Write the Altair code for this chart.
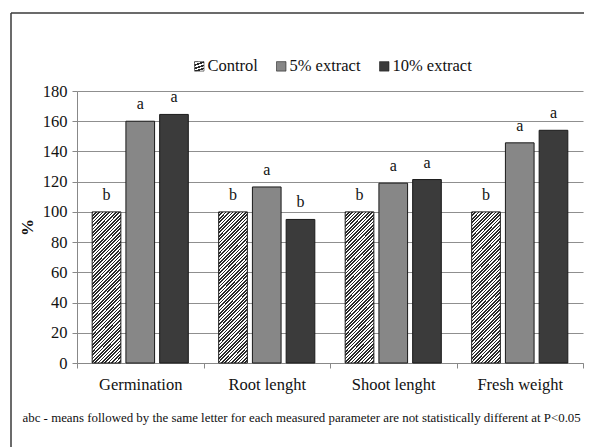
import altair as alt
import pandas as pd

categories = ["Germination", "Root lenght", "Shoot lenght", "Fresh weight"]
series = ["Control", "5% extract", "10% extract"]
control_vals = [100, 100, 100, 100]
ext5_vals = [160, 116.5, 119, 145.7]
ext10_vals = [164.5, 95, 121.4, 154]
control_letters = ["b", "b", "b", "b"]
ext5_letters = ["a", "a", "a", "a"]
ext10_letters = ["a", "b", "a", "a"]
y_ticks = [0, 20, 40, 60, 80, 100, 120, 140, 160, 180]
footnote = ("abc - means followed by the same letter for each measured parameter "
            "are not statistically different at P<0.05")

rows = []
for s, vals, lets in [(series[0], control_vals, control_letters),
                      (series[1], ext5_vals, ext5_letters),
                      (series[2], ext10_vals, ext10_letters)]:
    for c, v, l in zip(categories, vals, lets):
        rows.append({"category": c, "series": s, "value": v, "letter": l})
df = pd.DataFrame(rows)

FONT = "Liberation Serif"

# diagonal hatch as a striped linear gradient (style only)
n_per = 53
stops = []
for i in range(n_per):
    a = i / n_per
    m = (i + 0.5) / n_per
    b = (i + 1) / n_per
    stops += [(a, "#2a2a2a"), (m, "#2a2a2a"), (m, "#ffffff"), (b, "#ffffff")]
stops_str = ",".join("{offset:%.5f,color:'%s'}" % (o, c) for o, c in stops)
hatch_expr = "{gradient:'linear',x1:0,y1:0,x2:0.2205,y2:1.149,stops:[" + stops_str + "]}"

x_enc = alt.X("category:N", sort=categories,
              scale=alt.Scale(paddingInner=0, paddingOuter=0),
              axis=alt.Axis(title=footnote, labelAngle=0, tickBand="extent",
                            tickSize=5, tickColor="#888888", domainColor="#888888",
                            labelFont=FONT, labelFontSize=16.5, labelColor="#111111",
                            labelPadding=8, grid=False,
                            titleFont=FONT, titleFontSize=12.9, titleFontWeight="normal",
                            titleColor="#111111", titleAnchor="start", titleAlign="left",
                            titleBaseline="alphabetic", titleX=-55, titleY=58))
xoff_enc = alt.XOffset("series:N", sort=series,
                       scale=alt.Scale(domain=series, paddingInner=0.15, paddingOuter=0.45))
y_enc = alt.Y("value:Q", scale=alt.Scale(domain=[0, 180]),
              axis=alt.Axis(values=y_ticks, title="%", titleFont=FONT, titleFontSize=17,
                            titleFontWeight="bold", titleColor="#111111", titlePadding=6,
                            grid=True, gridColor="#8f8f8f", gridWidth=1,
                            domainColor="#888888", tickColor="#888888", tickSize=5,
                            labelFont=FONT, labelFontSize=16.5, labelColor="#111111",
                            labelPadding=5))

bars = alt.Chart(df).mark_bar(stroke="#1a1a1a", strokeWidth=1).encode(
    x=x_enc, xOffset=xoff_enc, y=y_enc,
    color=alt.Color("series:N",
                    scale=alt.Scale(domain=series,
                                    range=[alt.ExprRef(expr=hatch_expr), "#878787", "#3b3b3b"]),
                    legend=alt.Legend(title=None, orient="none", direction="horizontal",
                                      columns=3, legendX=114, legendY=-33,
                                      symbolType="square", symbolSize=90,
                                      symbolStrokeColor="#222222", symbolStrokeWidth=0.6,
                                      labelFont=FONT, labelFontSize=16.5, labelColor="#111111",
                                      labelOffset=0, columnPadding=15))
)

letters = alt.Chart(df).mark_text(dy=-12, baseline="alphabetic", font=FONT,
                                  fontSize=16, color="#111111").encode(
    x=x_enc, xOffset=xoff_enc, y=y_enc, text="letter:N"
)

one = alt.Data(values=[{"k": 1}])
frame_left = alt.Chart(one).mark_rule(stroke="#3a3a3a", strokeWidth=1.5).encode(
    x=alt.value(-66), y=alt.value(-78), y2=alt.value(1000))
frame_top = alt.Chart(one).mark_rule(stroke="#3a3a3a", strokeWidth=1.5).encode(
    x=alt.value(-66), x2=alt.value(1000), y=alt.value(-78))

chart = alt.layer(bars, letters, frame_left, frame_top).properties(
    width=506, height=272,
    autosize=alt.AutoSizeParams(type="none"),
    padding={"left": 69, "top": 83, "right": 1, "bottom": 100},
).configure_view(stroke=None)

chart.save("out.html", embed_options={"renderer": "svg", "actions": False})
